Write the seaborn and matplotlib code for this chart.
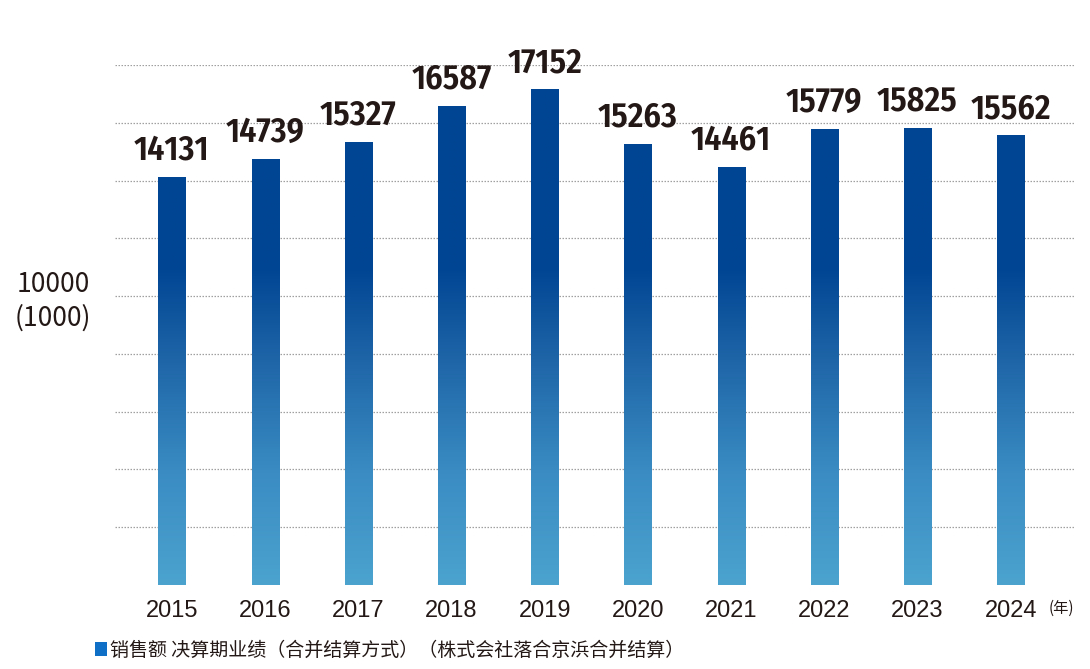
import numpy as np
import pandas as pd
import matplotlib
matplotlib.use("Agg")
import matplotlib.pyplot as plt
import seaborn as sns
from matplotlib.colors import LinearSegmentedColormap
from matplotlib.patches import Patch

years = ["2015", "2016", "2017", "2018", "2019", "2020", "2021", "2022", "2023", "2024"]
sales = [14131, 14739, 15327, 16587, 17152, 15263, 14461, 15779, 15825, 15562]
grid_ticks = [2000, 4000, 6000, 8000, 10000, 12000, 14000, 16000, 18000]
legend_label = "销售额 决算期业绩（合并结算方式）（株式会社落合京浜合并结算）"
unit_top = "10000"
unit_bottom = "(1000)"
year_suffix = "(年)"

sns.set_theme(style="white")
plt.rcParams['font.family'] = ['Liberation Sans', 'Noto Sans CJK SC', 'DejaVu Sans']

W, H = 1090, 669
fig = plt.figure(figsize=(W / 100, H / 100), dpi=100)
ax = fig.add_axes([115 / W, 1 - 585 / H, 960 / W, 520 / H])

df = pd.DataFrame({"year": years, "sales": sales})
sns.barplot(data=df, x="year", y="sales", width=0.29, color="#004593",
            ax=ax, zorder=3, saturation=1)

# gradient fill
cmap = LinearSegmentedColormap.from_list(
    "g", [(0, "#4ba3ce"), (0.35, "#3a8cc3"), (0.7, "#1f66a8"), (1, "#004593")])
grad_top = 11000
for p in ax.patches:
    x0, w = p.get_x(), p.get_width()
    h = p.get_height()
    yy = np.linspace(0, h, 300)
    vals = np.clip(yy / grad_top, 0, 1).reshape(-1, 1)
    im = ax.imshow(vals, cmap=cmap, vmin=0, vmax=1, origin="lower",
                   extent=[x0, x0 + w, 0, h], aspect="auto", zorder=4,
                   interpolation="bilinear")
    im.set_clip_path(p)
    p.set_facecolor("none")
    p.set_edgecolor("none")
ax.set_xlim(-0.61, 9.69)
ax.set_ylim(0, 18000)

# value labels
label_fam = ['Fira Sans Condensed', 'Encode Sans Condensed', 'Oswald', 'DejaVu Sans']
for i, v in enumerate(sales):
    ax.annotate(f"{v}", (i, v), xytext=(0, 12.5), textcoords="offset points",
                ha="center", va="baseline", fontsize=24.5, fontweight=600,
                family=label_fam, color="#231815", zorder=6,
                annotation_clip=False)

# grid
ax.set_yticks(grid_ticks)
ax.set_yticklabels([])
ax.yaxis.grid(True, color="#a0a0a0", linestyle=(0, (1.2, 1.2)), linewidth=0.9, zorder=1)
ax.xaxis.grid(False)
for s in ax.spines.values():
    s.set_visible(False)
ax.tick_params(axis="both", length=0)
ax.tick_params(axis="x", pad=10.5, labelsize=17, labelcolor="#231815")
ax.set_xlabel("")
ax.set_ylabel("")

# unit labels
cjk = ['Noto Sans CJK JP', 'DejaVu Sans']
fig.text(53 / W, 1 - 285 / H, unit_top, ha="center", va="center", fontsize=19,
         color="#231815", family=cjk, fontweight="normal")
fig.text(53 / W, 1 - 318 / H, unit_bottom, ha="center", va="center", fontsize=19,
         color="#231815", family=cjk, fontweight="normal")
fig.text(1061 / W, 1 - 608 / H, year_suffix, ha="center", va="center", fontsize=11,
         color="#231815", family=['Noto Sans CJK SC', 'DejaVu Sans'])

# legend
leg = fig.legend(handles=[Patch(facecolor="#0f6fc6", edgecolor="none")],
                 labels=[legend_label], loc="center left",
                 bbox_to_anchor=(95 / W, 1 - 650 / H), frameon=False,
                 borderaxespad=0, borderpad=0, handlelength=0.65, handleheight=0.75,
                 handletextpad=0.15,
                 prop={"family": ['Noto Sans CJK SC', 'DejaVu Sans'], "size": 13.7,
                       "weight": "medium"})
for t in leg.get_texts():
    t.set_color("#231815")

fig.savefig("out.png", dpi=100)
